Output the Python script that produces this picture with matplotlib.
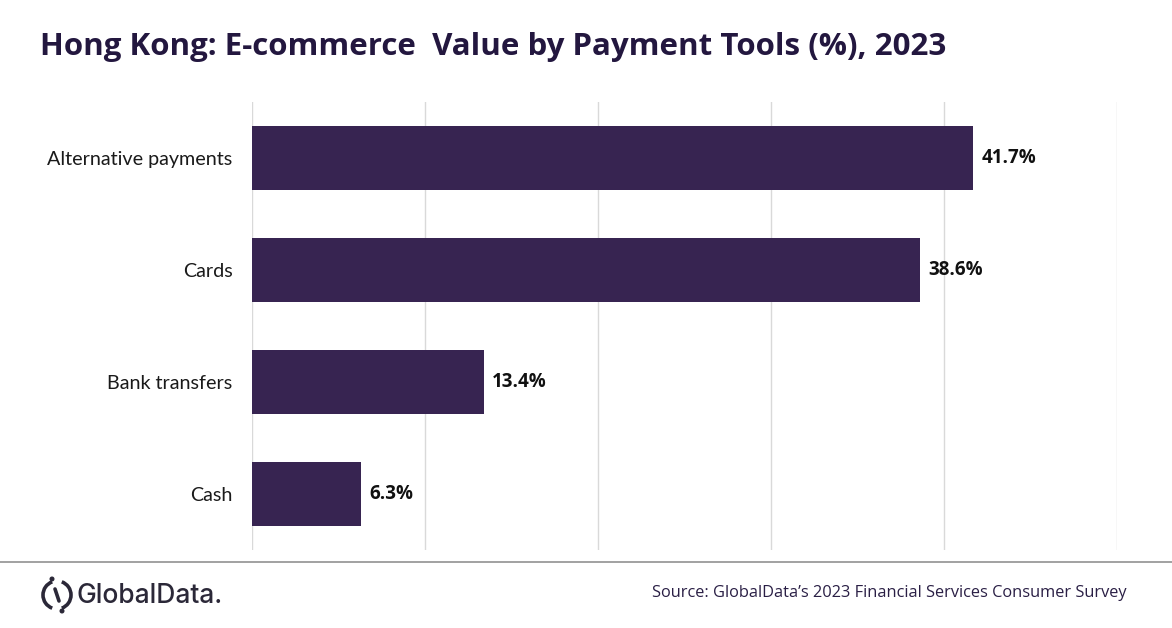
import matplotlib
matplotlib.use("Agg")
import matplotlib.pyplot as plt
from matplotlib.patches import Arc, Circle
from matplotlib.lines import Line2D

categories = ["Alternative payments", "Cards", "Bank transfers", "Cash"]
values = [41.7, 38.6, 13.4, 6.3]
value_labels = ["41.7%", "38.6%", "13.4%", "6.3%"]

title = "Hong Kong: E-commerce  Value by Payment Tools (%), 2023"
source = "Source: GlobalData\u2019s 2023 Financial Services Consumer Survey"

BAR = "#372451"
TITLE_C = "#23173f"
W, H = 1172, 628
fig = plt.figure(figsize=(W / 100, H / 100), dpi=100)
fig.patch.set_facecolor("white")

ax = fig.add_axes([252 / W, 1 - 550 / H, (1117 - 252) / W, (550 - 102) / H])
y = list(range(len(categories)))
ax.barh(y, values, height=0.57, color=BAR, zorder=3)
ax.set_xlim(0, 50)
ax.set_ylim(len(categories) - 0.5, -0.5)
ax.set_xticks([0, 10, 20, 30, 40, 50])
ax.xaxis.grid(True, color="#d9d9d9", linewidth=1, zorder=0)
ax.tick_params(axis="x", length=0, labelbottom=False)
ax.tick_params(axis="y", length=0, pad=14)
ax.set_yticks(y)
ax.set_yticklabels(categories, fontsize=14.2, family="Lato", color="#1a1a1a")
for s in ax.spines.values():
    s.set_visible(False)
for yi, v, lab in zip(y, values, value_labels):
    ax.annotate(lab, (v, yi), xytext=(6, 0), textcoords="offset points",
                ha="left", va="center", fontsize=13.5, fontweight="bold",
                family="Open Sans", color="#111111")

fig.text(40 / W, 1 - 47 / H, title, fontsize=22.5, fontweight="bold",
         family="Open Sans", color=TITLE_C, ha="left", va="center")

fig.add_artist(Line2D([0, 1], [1 - 562 / H] * 2, color="#9a9a9a", linewidth=1.3,
                      transform=fig.transFigure))

fig.text(1127 / W, 1 - 593 / H, source, fontsize=11.8, family="Open Sans",
         color="#2a1f45", ha="right", va="center")

# GlobalData logo (text + simple icon)
lax = fig.add_axes([0, 0, 1, 1], facecolor="none")
lax.set_xlim(0, W)
lax.set_ylim(H, 0)
lax.axis("off")
LOGO = "#2b2838"
cx, cy, r = 57, 595, 14
lax.add_patch(Arc((cx, cy), 2 * r, 2 * r, theta1=110, theta2=250, color=LOGO, lw=2.6))
lax.add_patch(Arc((cx, cy), 2 * r, 2 * r, theta1=290, theta2=70, color=LOGO, lw=2.6))
lax.plot([cx - 2, cx + 2], [cy - 6, cy + 6], color=LOGO, lw=2.6, solid_capstyle="round")
lax.add_patch(Circle((cx - 5, 579), 1.8, color=LOGO))
lax.add_patch(Circle((cx + 5, 611), 1.8, color=LOGO))
lax.text(77, 596, "GlobalData.", fontsize=19, family="Inter", fontweight="medium",
         color=LOGO, ha="left", va="center")

fig.savefig("out.png", dpi=100, facecolor="white")
